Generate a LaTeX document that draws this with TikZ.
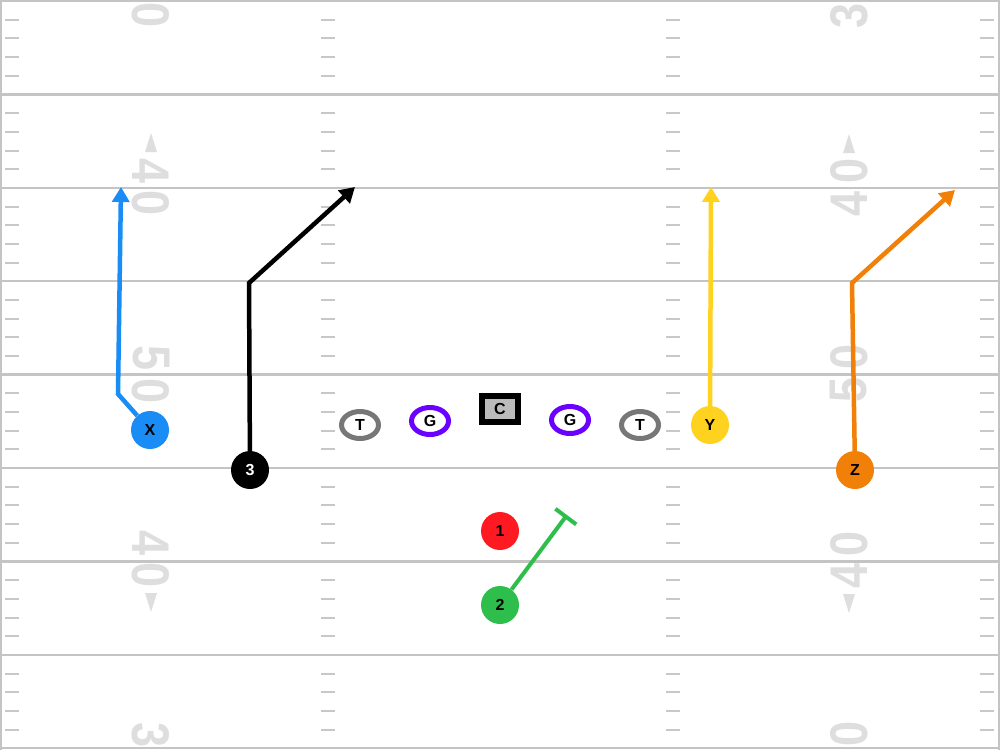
\documentclass[tikz,border=0pt]{standalone}
\usepackage{fontspec}
\setmainfont{Liberation Sans}
\usepackage{tikz}
\usetikzlibrary{arrows.meta}
\usetikzlibrary{shapes.geometric}

\definecolor{fieldline}{HTML}{C4C4C4}
\definecolor{hashgray}{HTML}{C8C8C8}
\definecolor{numgray}{HTML}{DEDEDE}
\definecolor{xblue}{HTML}{1A8CF5}
\definecolor{yyellow}{HTML}{FFD21F}
\definecolor{zorange}{HTML}{F08008}
\definecolor{qbred}{HTML}{FF1A22}
\definecolor{rbgreen}{HTML}{2DBE4B}
\definecolor{guardpurple}{HTML}{6A00FF}
\definecolor{tacklegray}{HTML}{777777}
\definecolor{centerfill}{HTML}{BBBBBB}

\tikzset{
  player/.style={circle, minimum size=38pt, inner sep=0pt,
    font=\fontsize{16}{16}\selectfont\bfseries},
  lineman/.style={ellipse, draw=#1, line width=5pt, fill=white,
    minimum width=37pt, minimum height=27pt, inner sep=0pt,
    font=\fontsize{16}{16}\selectfont\bfseries},
  route/.style={line width=4.5pt, -{Triangle[length=15pt,width=17pt]}},
  yardnum/.style={numgray, inner sep=0pt,
    font=\fontsize{53}{53}\selectfont\bfseries}
}

\begin{document}
\begin{tikzpicture}[x=1pt,y=-1pt]
                \useasboundingbox (0,0) rectangle (1000,750);
                \fill[white] (0,0) rectangle (1000,750);

                % Yard lines and hashes
                \foreach \i in {0,...,8}
                  \draw[fieldline, line width=2.5pt] (0,{1+\i*93.4}) -- (1000,{1+\i*93.4});
                \foreach \i in {0,...,7}
                  \foreach \k in {1,...,4}
                    \foreach \hx in {5,321,666,980}
                      \draw[hashgray, line width=2pt] (\hx,{1+\i*93.4+\k*18.7}) -- ++(14,0);
                \draw[fieldline, line width=2pt] (1,0) -- (1,750);
                \draw[fieldline, line width=2pt] (999,0) -- (999,750);

                % Yard numbers
                \foreach \yy/\d in {-15/3, 15/0, 171/4, 203/0, 358/5, 391/0, 543/4, 575/0, 735/3, 767/0}
                  \node[yardnum, rotate=-90] at (151,\yy) {\scalebox{0.85}[1]{\d}};
                \foreach \yy/\d in {16/3, -16/0, 204/4, 171/0, 390/5, 357/0, 576/4, 544/0, 766/3, 734/0}
                  \node[yardnum, rotate=90] at (849,\yy) {\scalebox{0.85}[1]{\d}};
                \fill[numgray] (151,133) -- (145,152) -- (157,152) -- cycle;
                \fill[numgray] (151,612) -- (145,593) -- (157,593) -- cycle;
                \fill[numgray] (849,134) -- (843,153) -- (855,153) -- cycle;
                \fill[numgray] (849,613) -- (843,594) -- (855,594) -- cycle;

                % Line
                \node[lineman=tacklegray] (LT) at (360,425) {T};
                \node[lineman=guardpurple] (LG) at (430,421) {G};
                \node[draw=black, line width=6pt, fill=centerfill, minimum width=36pt,
                  minimum height=26pt, inner sep=0pt,
                  font=\fontsize{16}{16}\selectfont\bfseries] (C) at (500,409) {C};
                \node[lineman=guardpurple] (RG) at (570,420) {G};
                \node[lineman=tacklegray] (RT) at (640,425) {T};

                % Skill players
                \node[player, fill=xblue] (X) at (150,430) {X};
                \node[player, fill=black, text=white] (P3) at (250,470) {3};
                \node[player, fill=yyellow] (Y) at (710,425) {Y};
                \node[player, fill=zorange] (Z) at (855,470) {Z};
                \node[player, fill=qbred] (P1) at (500,531) {1};
                \node[player, fill=rbgreen] (P2) at (500,605) {2};

                % Route points
                \coordinate (xbend) at (118,394);
                \coordinate (xend) at (121,187);
                \coordinate (tbend) at (249,283);
                \coordinate (tend) at (355,187);
                \coordinate (yend) at (711,187);
                \coordinate (zbend) at (852,283);
                \coordinate (zend) at (955,190);
                \coordinate (block) at (567,515);

                % Routes
                \draw[route, xblue] (X) -- (xbend) -- (xend);
                \draw[route, black] (P3) -- (tbend) -- (tend);
                \draw[route, yyellow] (Y) -- (yend);
                \draw[route, zorange] (Z) -- (zbend) -- (zend);
                \draw[rbgreen, line width=4pt, -{Bar[width=26pt,line width=4pt]}] (P2) -- (block);
            \end{tikzpicture}
\end{document}
